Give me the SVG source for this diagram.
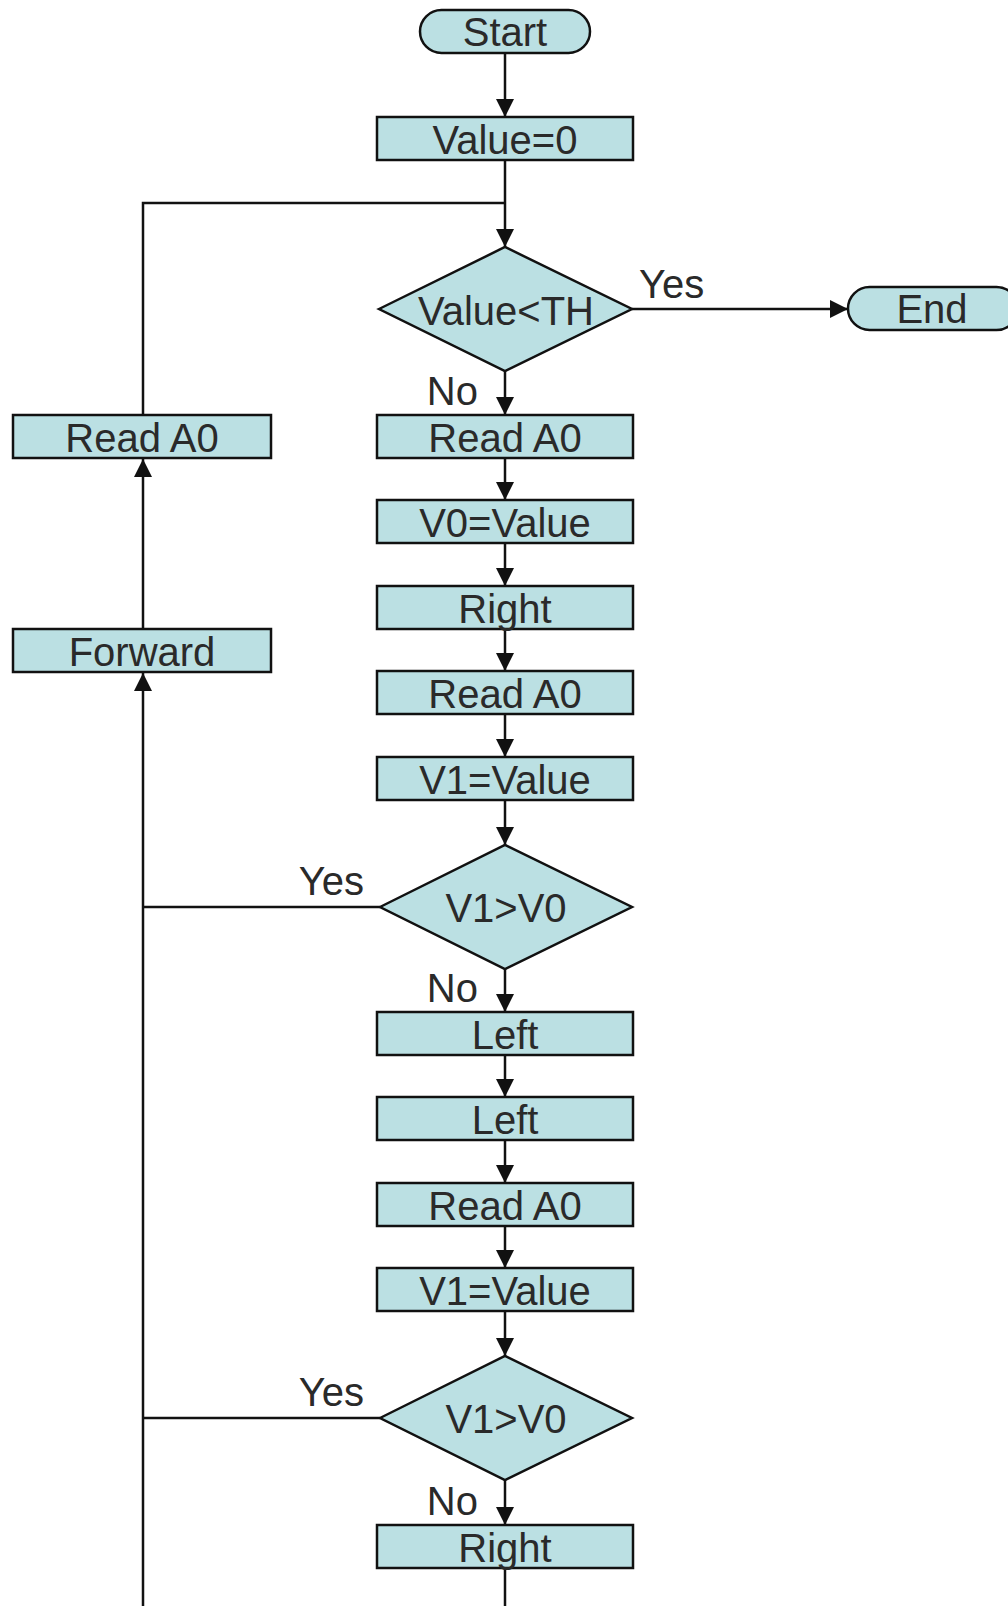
<svg xmlns="http://www.w3.org/2000/svg" width="1008" height="1606" viewBox="0 0 1008 1606">
<style>
.n{fill:#BBE0E3;stroke:#111;stroke-width:2.5}
.t{font-family:"Liberation Sans",Arial,sans-serif;font-size:40px;fill:#2a2a2a;text-anchor:middle}
.l{font-family:"Liberation Sans",Arial,sans-serif;font-size:40px;fill:#2a2a2a}
.c{fill:none;stroke:#111;stroke-width:2.5}
</style>
<defs>
<marker id="ah" markerUnits="userSpaceOnUse" markerWidth="19" markerHeight="19" refX="18" refY="9" orient="auto">
<path d="M0,0 L18,9 L0,18 z" fill="#111"/>
</marker>
</defs>
<rect width="1008" height="1606" fill="#fff"/>
<g id="connectors">
<line class="c" x1="505" y1="53" x2="505" y2="117" marker-end="url(#ah)"/>
<line class="c" x1="505" y1="160" x2="505" y2="247" marker-end="url(#ah)"/>
<polyline class="c" points="143,415 143,203 505,203"/>
<line class="c" x1="632" y1="309" x2="848" y2="309" marker-end="url(#ah)"/>
<line class="c" x1="505" y1="371" x2="505" y2="415" marker-end="url(#ah)"/>
<line class="c" x1="505" y1="458" x2="505" y2="500" marker-end="url(#ah)"/>
<line class="c" x1="505" y1="543" x2="505" y2="586" marker-end="url(#ah)"/>
<line class="c" x1="505" y1="629" x2="505" y2="671" marker-end="url(#ah)"/>
<line class="c" x1="505" y1="714" x2="505" y2="757" marker-end="url(#ah)"/>
<line class="c" x1="505" y1="800" x2="505" y2="845" marker-end="url(#ah)"/>
<line class="c" x1="505" y1="969" x2="505" y2="1012" marker-end="url(#ah)"/>
<line class="c" x1="505" y1="1055" x2="505" y2="1097" marker-end="url(#ah)"/>
<line class="c" x1="505" y1="1140" x2="505" y2="1183" marker-end="url(#ah)"/>
<line class="c" x1="505" y1="1226" x2="505" y2="1268" marker-end="url(#ah)"/>
<line class="c" x1="505" y1="1311" x2="505" y2="1356" marker-end="url(#ah)"/>
<line class="c" x1="505" y1="1480" x2="505" y2="1525" marker-end="url(#ah)"/>
<line class="c" x1="505" y1="1568" x2="505" y2="1606"/>
<line class="c" x1="380" y1="907" x2="143" y2="907"/>
<line class="c" x1="380" y1="1418" x2="143" y2="1418"/>
<line class="c" x1="143" y1="1606" x2="143" y2="673" marker-end="url(#ah)"/>
<line class="c" x1="143" y1="629" x2="143" y2="459" marker-end="url(#ah)"/>
<text class="l" x="639" y="298">Yes</text>
<text class="l" x="478" y="405" text-anchor="end">No</text>
<text class="l" x="364" y="895" text-anchor="end">Yes</text>
<text class="l" x="478" y="1002" text-anchor="end">No</text>
<text class="l" x="364" y="1406" text-anchor="end">Yes</text>
<text class="l" x="478" y="1515" text-anchor="end">No</text>
</g>
<g id="start"><rect class="n" x="420" y="10" width="170" height="43" rx="21.5"/><text class="t" x="505" y="46">Start</text></g>
<g id="value0"><rect class="n" x="377" y="117" width="256" height="43"/><text class="t" x="505" y="154">Value=0</text></g>
<g id="dec1"><polygon class="n" points="379,309 505,247 632,309 505,371"/><text class="t" x="506" y="325">Value&lt;TH</text></g>
<g id="end"><rect class="n" x="848" y="287" width="170" height="43" rx="21.5"/><text class="t" x="932" y="323">End</text></g>
<g id="read1"><rect class="n" x="377" y="415" width="256" height="43"/><text class="t" x="505" y="452">Read A0</text></g>
<g id="v0"><rect class="n" x="377" y="500" width="256" height="43"/><text class="t" x="505" y="537">V0=Value</text></g>
<g id="right1"><rect class="n" x="377" y="586" width="256" height="43"/><text class="t" x="505" y="623">Right</text></g>
<g id="read2"><rect class="n" x="377" y="671" width="256" height="43"/><text class="t" x="505" y="708">Read A0</text></g>
<g id="v1a"><rect class="n" x="377" y="757" width="256" height="43"/><text class="t" x="505" y="794">V1=Value</text></g>
<g id="dec2"><polygon class="n" points="380,907 505,845 632,907 505,969"/><text class="t" x="506" y="922">V1&gt;V0</text></g>
<g id="left1"><rect class="n" x="377" y="1012" width="256" height="43"/><text class="t" x="505" y="1049">Left</text></g>
<g id="left2"><rect class="n" x="377" y="1097" width="256" height="43"/><text class="t" x="505" y="1134">Left</text></g>
<g id="read3"><rect class="n" x="377" y="1183" width="256" height="43"/><text class="t" x="505" y="1220">Read A0</text></g>
<g id="v1b"><rect class="n" x="377" y="1268" width="256" height="43"/><text class="t" x="505" y="1305">V1=Value</text></g>
<g id="dec3"><polygon class="n" points="380,1418 505,1356 632,1418 505,1480"/><text class="t" x="506" y="1433">V1&gt;V0</text></g>
<g id="right2"><rect class="n" x="377" y="1525" width="256" height="43"/><text class="t" x="505" y="1562">Right</text></g>
<g id="readL"><rect class="n" x="13" y="415" width="258" height="43"/><text class="t" x="142" y="452">Read A0</text></g>
<g id="forward"><rect class="n" x="13" y="629" width="258" height="43"/><text class="t" x="142" y="666">Forward</text></g>
</svg>
